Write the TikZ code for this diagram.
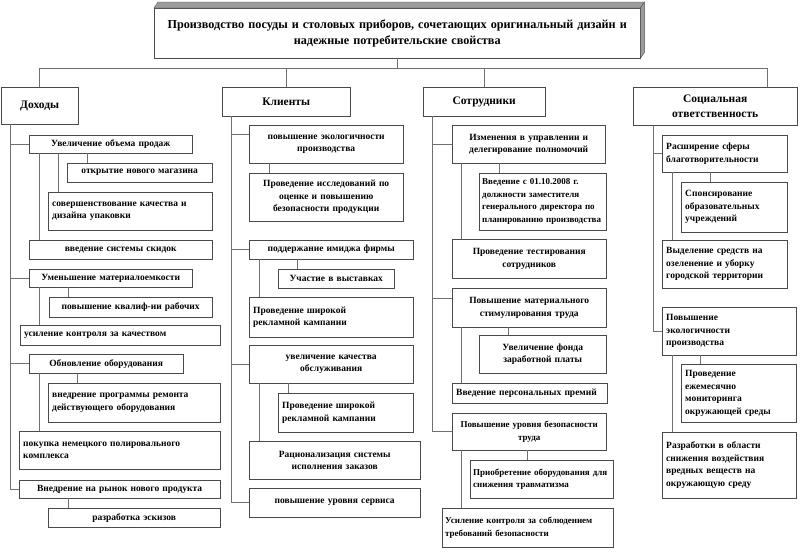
\documentclass[tikz,border=0pt]{standalone}
\usepackage{fontspec}
\setmainfont{Liberation Serif}
\usepackage{tikz}
\usetikzlibrary{calc}
\definecolor{frame}{HTML}{4A4A4A}
\definecolor{wire}{HTML}{707070}
\definecolor{side}{HTML}{9C9C9C}

\begin{document}
\begin{tikzpicture}[x=1pt, y=-1pt,
  head/.style={draw=frame, fill=white, anchor=north west, align=center, inner xsep=4pt, font=\bfseries\fontsize{12.2}{16}\selectfont},
  cat/.style={draw=frame, fill=white, anchor=north west, align=center, inner xsep=2pt, font=\bfseries\fontsize{11.5}{15}\selectfont},
  item/.style={draw=frame, fill=white, anchor=north west, align=center, inner xsep=4pt, inner ysep=1pt, font=\bfseries\fontsize{9.5}{12.5}\selectfont},
  small/.style={font=\bfseries\fontsize{9}{12.5}\selectfont},
  link/.style={draw=wire, line width=0.5pt},
]
\useasboundingbox (0,0) rectangle (800,558);

% Goal
\node[head, text width=478pt, minimum height=50pt] (goal) at (154,8) {Производство посуды и столовых приборов, сочетающих оригинальный дизайн и\\надежные потребительские свойства};
\filldraw[fill=side, draw=frame, line width=0.4pt] (goal.north west) -- ++(4,-6) -- ([shift={(4,-6)}]goal.north east) -- (goal.north east) -- cycle;
\filldraw[fill=side, draw=frame, line width=0.4pt] (goal.north east) -- ++(4,-6) -- ([shift={(4,-6)}]goal.south east) -- (goal.south east) -- cycle;

% Directions
\node[cat, minimum width=77pt, minimum height=37pt] (dox) at (1,87) {Доходы};
\node[cat, minimum width=128pt, minimum height=29pt] (kli) at (222,87) {Клиенты};
\node[cat, minimum width=122pt, minimum height=29pt] (sot) at (423,87) {Сотрудники};
\node[cat, minimum width=164pt, minimum height=38pt] (soc) at (633,87) {Социальная\\ответственность};

% Income
\node[item, text width=155pt, minimum height=18pt] (a1) at (29,135) {Увеличение объема продаж};
\node[item, text width=137pt, minimum height=19pt] (a11) at (67,163) {открытие нового магазина};
\node[item, text width=156pt, minimum height=38pt, align=left] (a12) at (48,192) {совершенствование качества и\\дизайна упаковки};
\node[item, text width=175pt, minimum height=19pt] (a13) at (29,240) {введение системы скидок};
\node[item, text width=155pt, minimum height=18pt] (a2) at (29,269) {Уменьшение материалоемкости};
\node[item, text width=155pt, minimum height=20pt] (a21) at (49,297) {повышение квалиф-ии рабочих};
\node[item, text width=192pt, minimum height=20pt, align=left] (a22) at (20,325) {усиление контроля за качеством};
\node[item, text width=146pt, minimum height=19pt] (a3) at (29,354) {Обновление оборудования};
\node[item, text width=164pt, minimum height=39pt, align=left] (a31) at (48,383) {внедрение программы ремонта\\действующего оборудования};
\node[item, text width=193pt, minimum height=38pt, align=left] (a32) at (19,431) {покупка немецкого полировального\\комплекса};
\node[item, text width=193pt, minimum height=18pt] (a4) at (19,480) {Внедрение на рынок нового продукта};
\node[item, text width=164pt, minimum height=19pt] (a41) at (48,508) {разработка эскизов};

% Clients
\node[item, text width=146pt, minimum height=38pt] (b1) at (249,125) {повышение экологичности\\производства};
\node[item, text width=146pt, minimum height=48pt] (b11) at (249,173) {Проведение исследований по\\оценке и повышению\\безопасности продукции};
\node[item, text width=156pt, minimum height=19pt] (b2) at (249,240) {поддержание имиджа фирмы};
\node[item, text width=108pt, minimum height=19pt] (b21) at (278,269) {Участие в выставках};
\node[item, text width=156pt, minimum height=40pt, align=left] (b22) at (249,297) {Проведение широкой\\рекламной кампании};
\node[item, text width=156pt, minimum height=38pt] (b3) at (249,345) {увеличение качества\\обслуживания};
\node[item, text width=127pt, minimum height=39pt, align=left] (b31) at (278,393) {Проведение широкой\\рекламной кампании};
\node[item, text width=163pt, minimum height=38pt] (b32) at (249,441) {Рационализация системы\\исполнения заказов};
\node[item, text width=163pt, minimum height=29pt] (b4) at (249,488) {повышение уровня сервиса};

% Staff
\node[item, text width=145pt, minimum height=38pt] (c1) at (452,125) {Изменения в управлении и\\делегирование полномочий};
\node[item, small, text width=121pt, minimum height=57pt, align=left, inner xsep=3pt] (c11) at (479,173) {Введение с 01.10.2008 г.\\должности заместителя\\генерального директора по\\планированию производства};
\node[item, text width=146pt, minimum height=39pt] (c12) at (452,239) {Проведение тестирования\\сотрудников};
\node[item, text width=146pt, minimum height=39pt] (c2) at (452,288) {Повышение материального\\стимулирования труда};
\node[item, text width=119pt, minimum height=38pt] (c21) at (479,335) {Увеличение фонда\\заработной платы};
\node[item, text width=147pt, minimum height=20pt, align=left] (c22) at (452,383) {Введение персональных премий};
\node[item, small, text width=148pt, minimum height=37pt, inner xsep=3pt] (c3) at (452,413) {Повышение уровня безопасности\\труда};
\node[item, small, text width=137pt, minimum height=38pt, align=left, inner xsep=3pt] (c31) at (470,460) {Приобретение оборудования для\\снижения травматизма};
\node[item, small, text width=165pt, minimum height=39pt, align=left, inner xsep=3pt] (c32) at (442,508) {Усиление контроля за соблюдением\\требований безопасности};

% Social responsibility
\node[item, text width=117pt, minimum height=37pt, align=left] (d1) at (662,135) {Расширение сферы\\благотворительности};
\node[item, text width=98pt, minimum height=50pt, align=left] (d11) at (681,182) {Спонсирование\\образовательных\\учреждений};
\node[item, text width=117pt, minimum height=48pt, align=left] (d12) at (662,240) {Выделение средств на\\озеленение и уборку\\городской территории};
\node[item, text width=126pt, minimum height=48pt, align=left] (d2) at (662,307) {Повышение\\экологичности\\производства};
\node[item, text width=107pt, minimum height=58pt, align=left] (d21) at (681,364) {Проведение\\ежемесячно\\мониторинга\\окружающей среды};
\node[item, text width=126pt, minimum height=66pt, align=left] (d22) at (662,432) {Разработки в области\\снижения воздействия\\вредных веществ на\\окружающую среду};

% Bus
\draw[link] (goal.south) -- ++(0,10) coordinate (bus);
\foreach \n in {dox,kli,sot}
  \draw[link] (bus) -| (\n.north);
\draw[link] (bus) -| ([xshift=134pt]soc.north west);

% Spines
\foreach \c in {a1,a2,a3,a4}
  \draw[link] ([xshift=9pt]dox.south west) |- (\c.west);
\draw[link] ([xshift=9pt]kli.south west) |- ([yshift=-9pt]b1.north west);
\foreach \c in {b2,b3,b4}
  \draw[link] ([xshift=9pt]kli.south west) |- (\c.west);
\foreach \c in {c1,c3}
  \draw[link] ([xshift=9pt]sot.south west) |- (\c.west);
\draw[link] ([xshift=9pt]sot.south west) |- ([yshift=-10pt]c2.north west);
\foreach \c in {d1,d2}
  \draw[link] ([xshift=20pt]soc.south west) |- (\c.west);

% Sub-items
\foreach \p/\c/\s in {a1/a11/20, a1/a12/10, a1/a13/10, a2/a21/19, a2/a22/19, a3/a31/29, a3/a32/20, a4/a41/20,
                      b1/b11/20, b2/b21/19, b2/b22/10, b3/b31/10, b3/b32/10,
                      c1/c11/20, c1/c12/9, c2/c21/29, c2/c22/9, c3/c31/57, c3/c32/19,
                      d1/d11/29, d1/d12/10, d2/d21/19, d2/d22/10}
  \draw[link] ([xshift=\s pt]\c.north west) -- ([xshift=\s pt]\c.north west |- \p.south);

\end{tikzpicture}
\end{document}
